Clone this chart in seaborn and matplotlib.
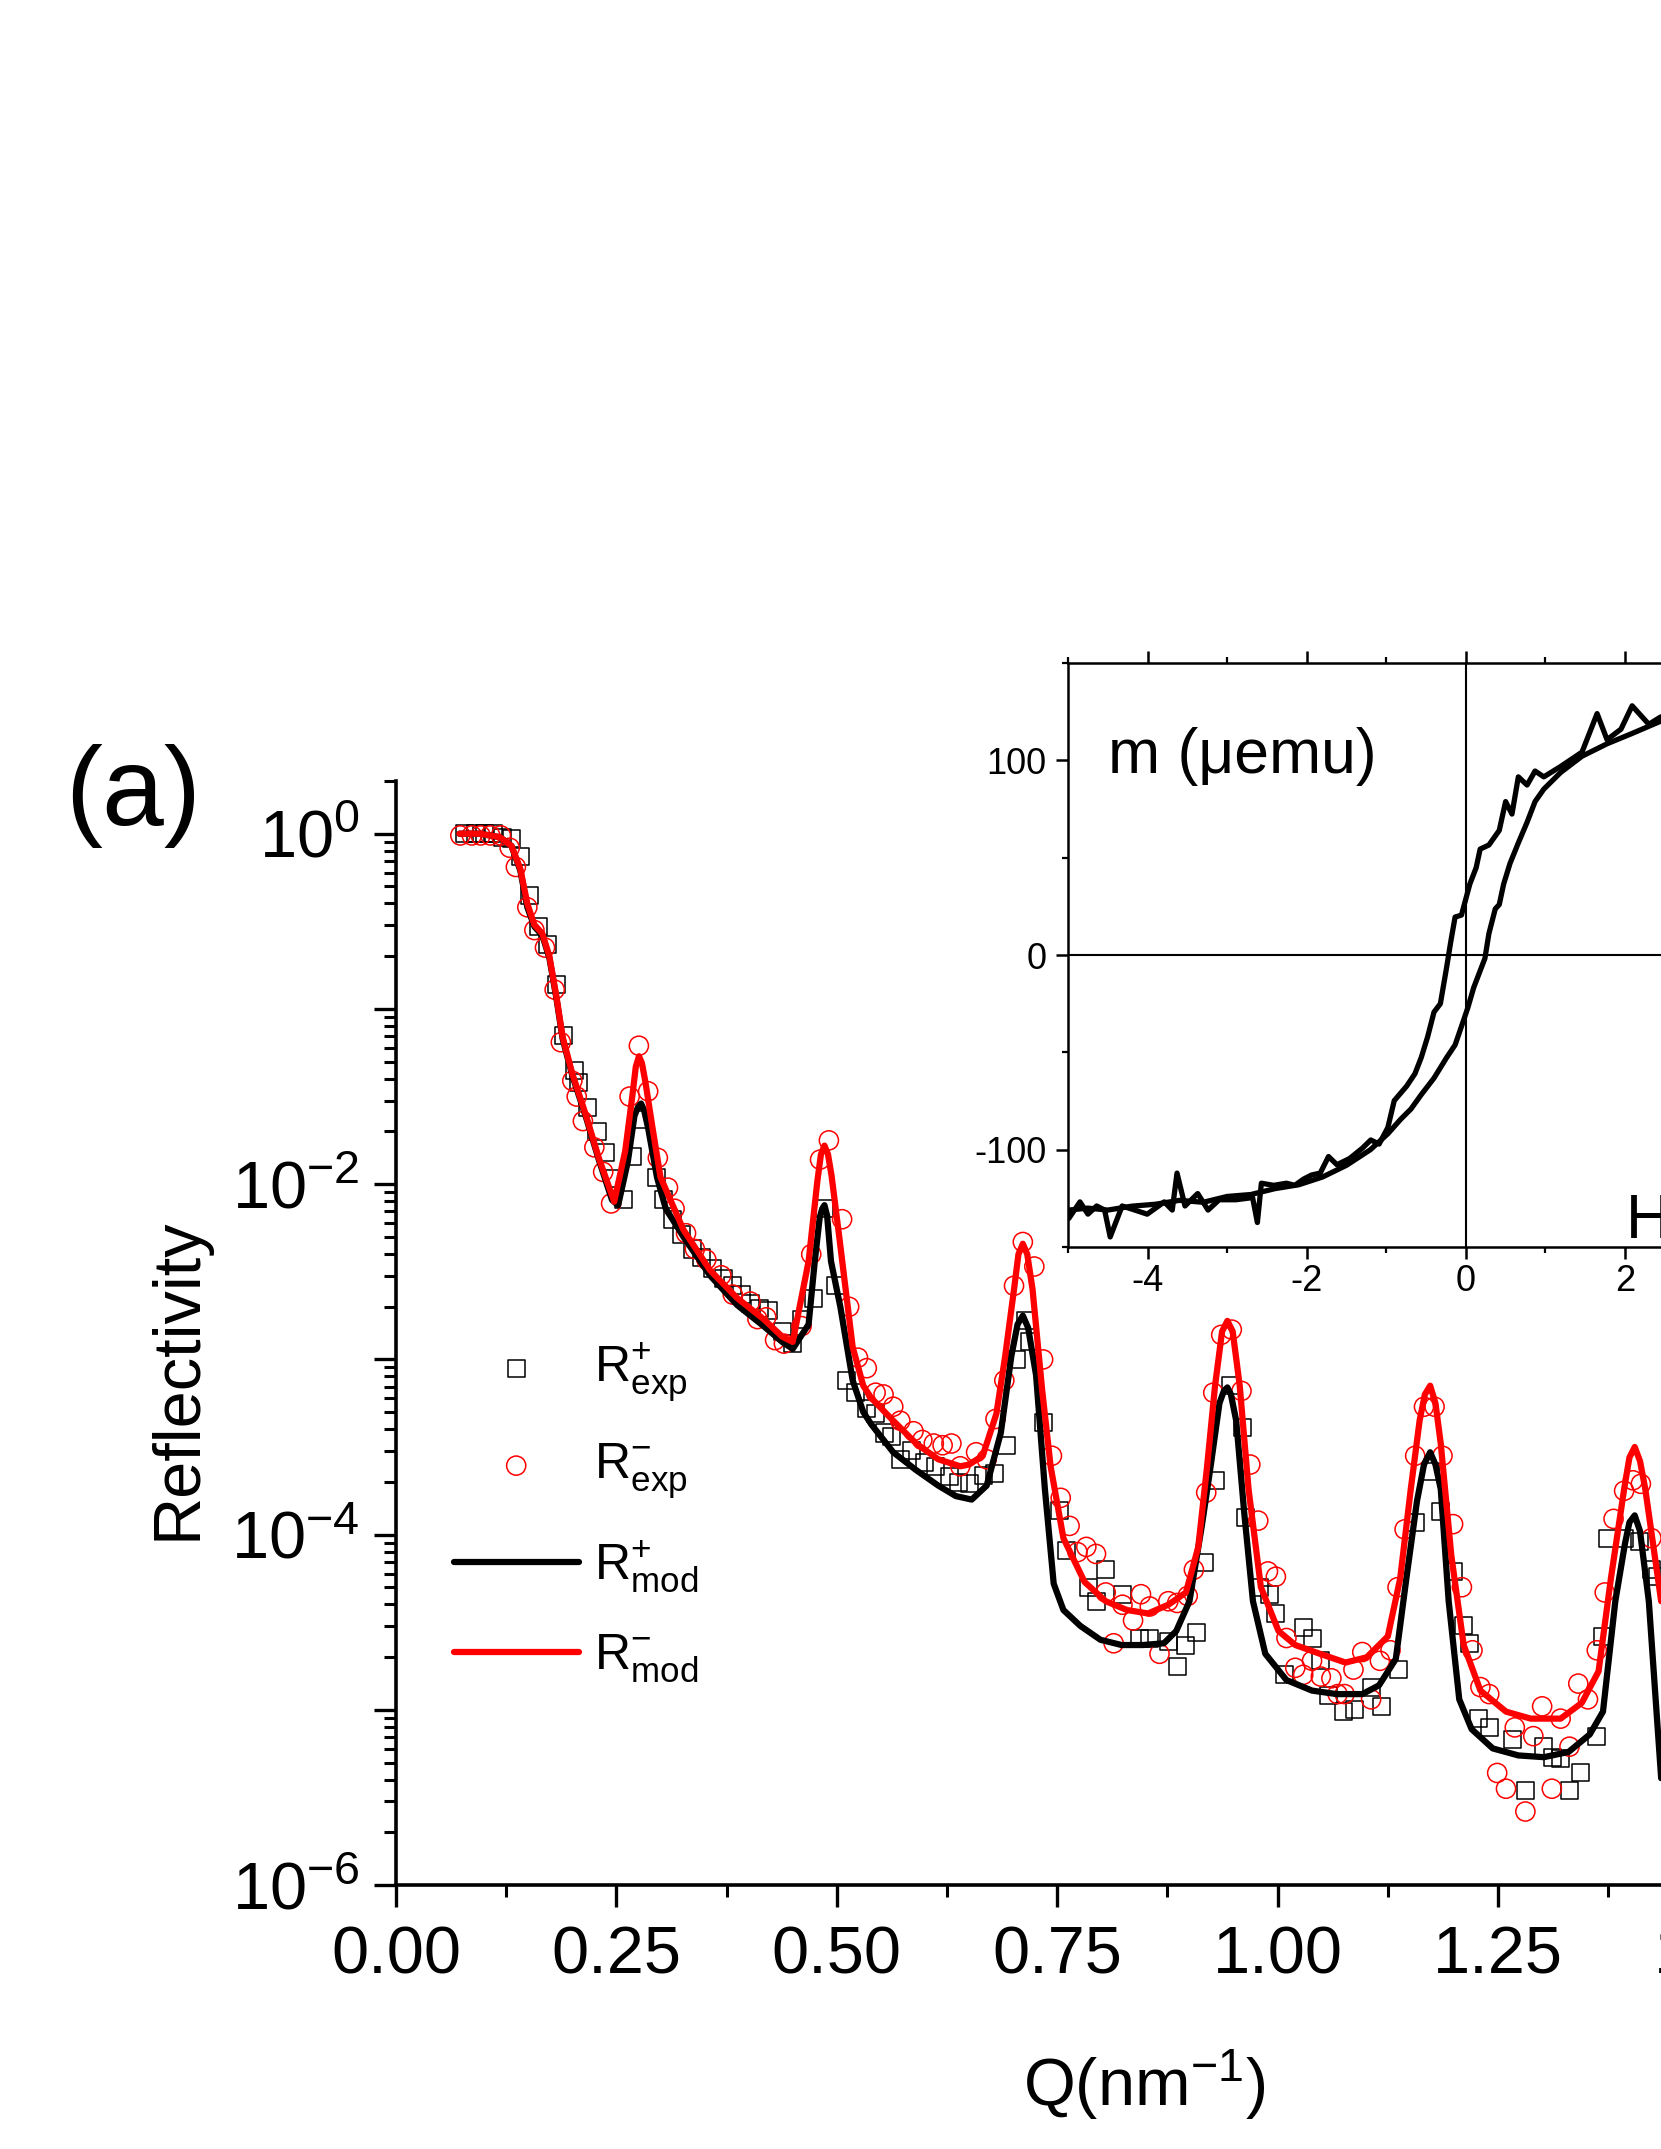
import numpy as np
import matplotlib
matplotlib.use('Agg')
import matplotlib.pyplot as plt
import seaborn as sns
from matplotlib.ticker import FixedLocator, LogLocator, FuncFormatter, MultipleLocator, NullFormatter

# reflectivity data: Q in nm^-1, reflectivity stored as log10(R)
q_plus_exp = [0.078, 0.090, 0.100, 0.111, 0.121, 0.131, 0.141, 0.152, 0.162, 0.172, 0.182, 0.190,
              0.202, 0.207, 0.217, 0.228, 0.238, 0.248, 0.258, 0.268, 0.281, 0.295, 0.303, 0.314,
              0.324, 0.336, 0.346, 0.359, 0.372, 0.382, 0.392, 0.402, 0.412, 0.422, 0.438, 0.450,
              0.460, 0.473, 0.486, 0.498, 0.511, 0.521, 0.534, 0.544, 0.554, 0.562, 0.572, 0.585,
              0.600, 0.612, 0.628, 0.638, 0.650, 0.666, 0.679, 0.693, 0.704, 0.714, 0.719, 0.734,
              0.753, 0.760, 0.786, 0.795, 0.805, 0.824, 0.843, 0.855, 0.876, 0.886, 0.896, 0.908,
              0.917, 0.929, 0.946, 0.960, 0.963, 0.979, 0.991, 0.998, 1.008, 1.029, 1.039, 1.049,
              1.058, 1.075, 1.087, 1.106, 1.118, 1.137, 1.156, 1.173, 1.185, 1.199, 1.211, 1.218,
              1.228, 1.240, 1.266, 1.281, 1.302, 1.312, 1.321, 1.331, 1.343, 1.362, 1.369, 1.374,
              1.393, 1.410, 1.424, 1.431]
logr_plus_exp = [0.0, 0.0, 0.0, 0.0, -0.02, -0.03, -0.13, -0.35, -0.53, -0.63, -0.86, -1.15,
                 -1.35, -1.42, -1.56, -1.70, -1.82, -1.97, -2.09, -1.84, -1.63, -1.96, -2.09, -2.20,
                 -2.29, -2.37, -2.42, -2.48, -2.54, -2.58, -2.63, -2.68, -2.71, -2.72, -2.84, -2.91,
                 -2.77, -2.65, -2.14, -2.58, -3.12, -3.19, -3.28, -3.31, -3.42, -3.44, -3.57, -3.52,
                 -3.59, -3.61, -3.67, -3.70, -3.71, -3.66, -3.65, -3.49, -3.00, -2.78, -2.90, -3.36,
                 -3.86, -4.09, -4.30, -4.38, -4.20, -4.34, -4.59, -4.59, -4.61, -4.75, -4.63, -4.56,
                 -4.16, -3.69, -3.15, -3.39, -3.90, -4.30, -4.34, -4.45, -4.80, -4.53, -4.59, -4.72,
                 -4.92, -5.01, -5.00, -4.87, -4.98, -4.77, -3.93, -3.64, -3.87, -4.21, -4.52, -4.62,
                 -5.05, -5.10, -5.17, -5.46, -5.21, -5.27, -5.28, -5.46, -5.36, -5.15, -4.58, -4.02,
                 -4.02, -4.04, -4.20, -4.24]

q_minus_exp = [0.073, 0.086, 0.096, 0.107, 0.119, 0.129, 0.136, 0.149, 0.157, 0.169, 0.180, 0.187,
               0.200, 0.205, 0.212, 0.225, 0.235, 0.244, 0.265, 0.2755, 0.286, 0.297, 0.3085, 0.316,
               0.329, 0.339, 0.352, 0.369, 0.382, 0.402, 0.410, 0.420, 0.430, 0.440, 0.460, 0.471,
               0.481, 0.491, 0.506, 0.514, 0.524, 0.534, 0.544, 0.553, 0.564, 0.572, 0.587, 0.597,
               0.610, 0.620, 0.630, 0.640, 0.658, 0.670, 0.680, 0.690, 0.701, 0.711, 0.724, 0.734,
               0.744, 0.754, 0.764, 0.773, 0.783, 0.794, 0.805, 0.814, 0.824, 0.836, 0.845, 0.855,
               0.866, 0.876, 0.886, 0.898, 0.905, 0.919, 0.927, 0.936, 0.948, 0.959, 0.969, 0.978,
               0.989, 0.998, 1.010, 1.020, 1.029, 1.039, 1.049, 1.061, 1.068, 1.076, 1.086, 1.096,
               1.106, 1.116, 1.128, 1.136, 1.144, 1.156, 1.166, 1.178, 1.187, 1.199, 1.209, 1.221,
               1.230, 1.240, 1.249, 1.259, 1.269, 1.281, 1.290, 1.300, 1.311, 1.321, 1.331, 1.341,
               1.352, 1.362, 1.371, 1.381, 1.393, 1.403, 1.412, 1.424]
logr_minus_exp = [-0.01, -0.01, -0.01, -0.01, -0.01, -0.08, -0.19, -0.42, -0.55, -0.65, -0.89, -1.19,
                  -1.41, -1.50, -1.64, -1.79, -1.93, -2.11, -1.50, -1.21, -1.47, -1.85, -2.02, -2.14,
                  -2.28, -2.37, -2.43, -2.52, -2.63, -2.67, -2.77, -2.76, -2.89, -2.91, -2.81, -2.40,
                  -1.86, -1.75, -2.20, -2.70, -2.99, -3.05, -3.19, -3.20, -3.27, -3.35, -3.41, -3.46,
                  -3.48, -3.49, -3.48, -3.61, -3.53, -3.57, -3.34, -3.12, -2.58, -2.33, -2.47, -3.00,
                  -3.55, -3.79, -3.95, -4.10, -4.07, -4.11, -4.33, -4.62, -4.40, -4.49, -4.34, -4.41,
                  -4.68, -4.38, -4.39, -4.35, -4.20, -3.76, -3.19, -2.86, -2.83, -3.18, -3.60, -3.92,
                  -4.21, -4.24, -4.59, -4.76, -4.80, -4.72, -4.81, -4.82, -4.91, -4.91, -4.77, -4.67,
                  -4.94, -4.72, -4.66, -4.30, -3.97, -3.55, -3.27, -3.27, -3.55, -3.94, -4.30, -4.66,
                  -4.87, -4.91, -5.36, -5.45, -5.10, -5.58, -5.15, -4.98, -5.45, -5.05, -5.21, -4.85,
                  -4.94, -4.66, -4.33, -3.91, -3.75, -3.69, -3.71, -4.02]

q_plus_mod = [0.072, 0.095, 0.118, 0.131, 0.141, 0.149, 0.157, 0.166, 0.174, 0.182,
              0.189, 0.200, 0.215, 0.230, 0.245, 0.252, 0.263, 0.2705, 0.2745, 0.278,
              0.2815, 0.286, 0.296, 0.306, 0.326, 0.356, 0.387, 0.417, 0.438, 0.450,
              0.468, 0.475, 0.4806, 0.4835, 0.486, 0.489, 0.4934, 0.504, 0.518, 0.530,
              0.539, 0.564, 0.5895, 0.615, 0.635, 0.653, 0.670, 0.686, 0.698, 0.705,
              0.711, 0.717, 0.726, 0.736, 0.746, 0.757, 0.776, 0.799, 0.823, 0.847,
              0.871, 0.885, 0.900, 0.914, 0.924, 0.934, 0.939, 0.943, 0.947, 0.953,
              0.962, 0.972, 0.986, 1.010, 1.039, 1.067, 1.096, 1.115, 1.134, 1.146,
              1.158, 1.166, 1.173, 1.179, 1.185, 1.194, 1.206, 1.220, 1.244, 1.273,
              1.302, 1.330, 1.354, 1.369, 1.383, 1.394, 1.399, 1.405, 1.411, 1.421,
              1.435]
logr_plus_mod = [0.0, 0.0, -0.02, -0.07, -0.21, -0.42, -0.53, -0.58, -0.71, -0.94,
                 -1.17, -1.38, -1.61, -1.86, -2.09, -2.12, -1.87, -1.61, -1.56, -1.54,
                 -1.58, -1.68, -1.96, -2.14, -2.30, -2.52, -2.69, -2.81, -2.90, -2.94,
                 -2.80, -2.44, -2.19, -2.14, -2.12, -2.18, -2.44, -2.70, -3.12, -3.30,
                 -3.37, -3.53, -3.63, -3.72, -3.78, -3.80, -3.72, -3.42, -2.98, -2.80,
                 -2.75, -2.82, -3.09, -3.74, -4.28, -4.43, -4.52, -4.60, -4.63, -4.63,
                 -4.62, -4.55, -4.38, -3.95, -3.61, -3.25, -3.18, -3.16, -3.20, -3.35,
                 -3.87, -4.38, -4.68, -4.83, -4.89, -4.91, -4.91, -4.86, -4.71, -4.25,
                 -3.81, -3.60, -3.53, -3.60, -3.74, -4.38, -4.94, -5.11, -5.22, -5.26,
                 -5.27, -5.24, -5.14, -5.01, -4.38, -4.05, -3.93, -3.89, -3.98, -4.38,
                 -5.39]

q_minus_mod = [0.072, 0.095, 0.118, 0.131, 0.141, 0.149, 0.157, 0.166, 0.174, 0.182,
               0.189, 0.200, 0.215, 0.230, 0.2475, 0.260, 0.268, 0.272, 0.2756, 0.279,
               0.283, 0.291, 0.300, 0.326, 0.356, 0.387, 0.417, 0.438, 0.450, 0.468,
               0.478, 0.482, 0.486, 0.490, 0.494, 0.503, 0.518, 0.530, 0.539, 0.564,
               0.590, 0.615, 0.640, 0.650, 0.6655, 0.681, 0.691, 0.701, 0.706, 0.711,
               0.716, 0.722, 0.733, 0.7425, 0.757, 0.781, 0.805, 0.829, 0.853, 0.876,
               0.896, 0.910, 0.920, 0.929, 0.937, 0.943, 0.949, 0.957, 0.967, 0.981,
               1.001, 1.020, 1.048, 1.077, 1.101, 1.125, 1.139, 1.151, 1.161, 1.167,
               1.173, 1.179, 1.185, 1.197, 1.211, 1.230, 1.259, 1.287, 1.321, 1.345,
               1.364, 1.378, 1.393, 1.399, 1.405, 1.411, 1.417, 1.435]
logr_minus_mod = [0.0, 0.0, -0.02, -0.07, -0.20, -0.40, -0.52, -0.57, -0.70, -0.93,
                  -1.16, -1.37, -1.60, -1.85, -2.10, -1.81, -1.50, -1.33, -1.27, -1.31,
                  -1.42, -1.68, -1.96, -2.26, -2.49, -2.65, -2.77, -2.87, -2.90, -2.44,
                  -1.98, -1.83, -1.78, -1.83, -1.95, -2.31, -2.93, -3.15, -3.22, -3.35,
                  -3.48, -3.57, -3.61, -3.60, -3.55, -3.31, -2.98, -2.60, -2.40, -2.34,
                  -2.40, -2.60, -3.18, -3.61, -4.02, -4.27, -4.38, -4.43, -4.45, -4.40,
                  -4.33, -4.07, -3.61, -3.15, -2.84, -2.78, -2.84, -3.15, -3.74, -4.30,
                  -4.55, -4.63, -4.68, -4.73, -4.70, -4.58, -4.25, -3.74, -3.35, -3.20,
                  -3.15, -3.25, -3.48, -4.12, -4.63, -4.89, -5.01, -5.05, -5.05, -4.96,
                  -4.78, -4.25, -3.74, -3.56, -3.50, -3.58, -3.74, -4.38]

# inset hysteresis loop: field H and moment m (micro-emu)
h_desc = [2.45, 2.30, 2.09, 1.95, 1.775, 1.65, 1.46, 1.19, 0.98, 0.87, 0.77, 0.66, 0.58, 0.50,
          0.42, 0.29, 0.18, 0.13, 0.05, -0.055, -0.135, -0.19, -0.24, -0.32, -0.40, -0.48, -0.56,
          -0.64, -0.745, -0.90, -0.98, -1.09, -1.195, -1.30, -1.46, -1.62, -1.726, -1.83, -1.94,
          -2.04, -2.15, -2.255, -2.415, -2.57, -2.62, -2.68, -2.89, -3.10, -3.24, -3.37, -3.53,
          -3.63, -3.69, -3.79, -4.005, -4.16, -4.32, -4.47, -4.54, -4.64, -4.75, -4.85, -4.99]
m_desc = [122.3, 118.5, 128.0, 116.0, 110.6, 124.0, 104.2, 96.8, 91.5, 94.5, 87.3, 91.5, 72.4,
          78.8, 64.0, 56.5, 54.4, 44.9, 36.4, 20.5, 19.5, 6.7, -6.0, -25.0, -29.3, -42.0, -52.6,
          -61.0, -67.4, -74.8, -88.6, -97.1, -95.0, -99.2, -104.5, -107.7, -103.5, -112.0, -113.0,
          -115.1, -118.3, -117.2, -118.3, -117.2, -137.4, -124.6, -125.7, -125.7, -131.0, -122.5,
          -128.9, -112.0, -131.0, -126.8, -133.1, -131.0, -128.9, -144.8, -131.0, -128.9, -133.1,
          -126.8, -135.3]
h_asc = [-4.99, -4.75, -4.5, -4.2, -3.9, -3.6, -3.3, -3.0, -2.7, -2.4, -2.1, -1.8, -1.5, -1.2,
         -0.98, -0.82, -0.69, -0.56, -0.40, -0.32, -0.24, -0.135, -0.055, 0.025, 0.10, 0.18,
         0.24, 0.29, 0.37, 0.42, 0.475, 0.555, 0.66, 0.77, 0.87, 0.98, 1.19, 1.46, 1.775, 2.09, 2.45]
m_asc = [-131.0, -130.0, -131.0, -129.0, -128.0, -126.0, -127.0, -124.0, -123.0, -120.0, -118.0,
         -114.0, -108.0, -100.0, -91.8, -84.4, -79.1, -71.7, -63.2, -57.9, -52.6, -46.2, -36.7,
         -27.1, -16.6, -8.1, -1.7, 11.0, 23.7, 25.9, 36.4, 47.0, 57.6, 68.2, 78.8, 85.2, 93.7,
         102.1, 108.5, 113.8, 120.1]

sns.set_style('ticks')
plt.rcParams['font.family'] = ['Liberation Sans', 'DejaVu Sans']
plt.rcParams['mathtext.fontset'] = 'custom'
plt.rcParams['mathtext.rm'] = 'Liberation Sans'
plt.rcParams['mathtext.it'] = 'Liberation Sans:italic'
plt.rcParams['mathtext.bf'] = 'Liberation Sans:bold'
plt.rcParams['mathtext.default'] = 'regular'
plt.rcParams['axes.unicode_minus'] = False
for key in ['text.color', 'axes.labelcolor', 'xtick.color', 'ytick.color', 'axes.edgecolor']:
    plt.rcParams[key] = 'black'

fig = plt.figure(figsize=(16.61, 21.49), dpi=100)

# main reflectivity panel (runs past the right edge like the cropped original)
ax = fig.add_axes([0.2384, 0.1228, 0.9289, 0.5138])
sns.scatterplot(x=q_plus_exp, y=10 ** np.array(logr_plus_exp), marker='s', s=150,
                facecolor='none', edgecolor='black', linewidth=1.1,
                label=r'$R^{+}_{exp}$', ax=ax, zorder=3)
sns.scatterplot(x=q_minus_exp, y=10 ** np.array(logr_minus_exp), marker='o', s=190,
                facecolor='none', edgecolor='red', linewidth=1.1,
                label=r'$R^{-}_{exp}$', ax=ax, zorder=4)
sns.lineplot(x=q_plus_mod, y=10 ** np.array(logr_plus_mod), color='black', linewidth=4.5,
             sort=False, estimator=None, label=r'$R^{+}_{mod}$', ax=ax, zorder=5)
sns.lineplot(x=q_minus_mod, y=10 ** np.array(logr_minus_mod), color='red', linewidth=4.5,
             sort=False, estimator=None, label=r'$R^{-}_{mod}$', ax=ax, zorder=6)

ax.set_yscale('log')
ax.set_xlim(0, 1.75)
ax.set_ylim(1e-6, 2)
ax.spines['top'].set_visible(False)
ax.spines['right'].set_visible(False)
for s in ['left', 'bottom']:
    ax.spines[s].set_linewidth(2.6)

ax.xaxis.set_major_locator(MultipleLocator(0.25))
ax.xaxis.set_minor_locator(MultipleLocator(0.125))
ax.xaxis.set_major_formatter(FuncFormatter(lambda v, p: f'{v:.2f}'))
ax.yaxis.set_major_locator(FixedLocator([10.0 ** e for e in range(0, -7, -1)]))
ax.yaxis.set_minor_locator(LogLocator(base=10, subs=np.arange(2, 10)))
ax.yaxis.set_minor_formatter(NullFormatter())


def ylab(v, pos):
    e = int(round(np.log10(v)))
    return r'$10^{%d}$' % e if e % 2 == 0 else ''


ax.yaxis.set_major_formatter(FuncFormatter(ylab))
ax.tick_params(which='major', direction='out', length=16, width=2.4, labelsize=48)
ax.tick_params(which='minor', direction='out', length=8.5, width=2.2)
ax.tick_params(axis='x', which='major', pad=13)
ax.tick_params(axis='y', which='major', pad=10)

ax.set_xlabel(r'Q(nm$^{-1}$)', fontsize=48)
ax.xaxis.set_label_coords(0.4848, -0.147)
ax.set_ylabel('Reflectivity', fontsize=48)
ax.yaxis.set_label_coords(-0.1206, 0.459)

handles, labels = ax.get_legend_handles_labels()
order = [r'$R^{+}_{exp}$', r'$R^{-}_{exp}$', r'$R^{+}_{mod}$', r'$R^{-}_{mod}$']
hmap = dict(zip(labels, handles))
ax.legend([hmap[k] for k in order], order, loc='center left',
          bbox_to_anchor=(453.7 / 1661, 1 - 1513 / 2149), bbox_transform=fig.transFigure,
          frameon=False, fontsize=36, handlelength=2.5, handletextpad=0.3,
          labelspacing=0.75, borderpad=0, borderaxespad=0)

fig.text(65 / 1661, 1 - 825 / 2149, '(a)', fontsize=80, ha='left', va='baseline')

# inset: magnetisation loop
ins = fig.add_axes([0.643, 0.4197, 0.479, 0.2718])
ins.axhline(0, color='black', linewidth=1.5, zorder=1)
ins.axvline(0, color='black', linewidth=1.5, zorder=1)
sns.lineplot(x=h_desc, y=m_desc, color='black', linewidth=3.8, sort=False, estimator=None,
             ax=ins, zorder=3)
sns.lineplot(x=h_asc, y=m_asc, color='black', linewidth=3.8, sort=False, estimator=None,
             ax=ins, zorder=3)
ins.set_xlim(-5, 5)
ins.set_ylim(-150, 150)
ins.set_xlabel('')
ins.set_ylabel('')
for s in ins.spines.values():
    s.set_linewidth(1.8)
ins.xaxis.set_major_locator(MultipleLocator(2))
ins.xaxis.set_minor_locator(MultipleLocator(1))
ins.yaxis.set_major_locator(MultipleLocator(100))
ins.yaxis.set_minor_locator(MultipleLocator(50))
ins.tick_params(which='major', direction='out', length=8.4, width=1.8, labelsize=26,
                top=True, bottom=True, left=True, right=False)
ins.tick_params(which='minor', direction='out', length=4, width=1.6,
                top=True, bottom=True, left=True, right=False)
ins.tick_params(axis='x', pad=4)
ins.tick_params(axis='y', pad=7)
ins.text(0.0497, 0.8116, u'm (\u03bcemu)', transform=ins.transAxes, fontsize=45,
         ha='left', va='baseline')
ins.text(0.7014, 0.016, 'H (kOe)', transform=ins.transAxes, fontsize=45,
         ha='left', va='baseline')

fig.savefig('out.png', dpi=100)
